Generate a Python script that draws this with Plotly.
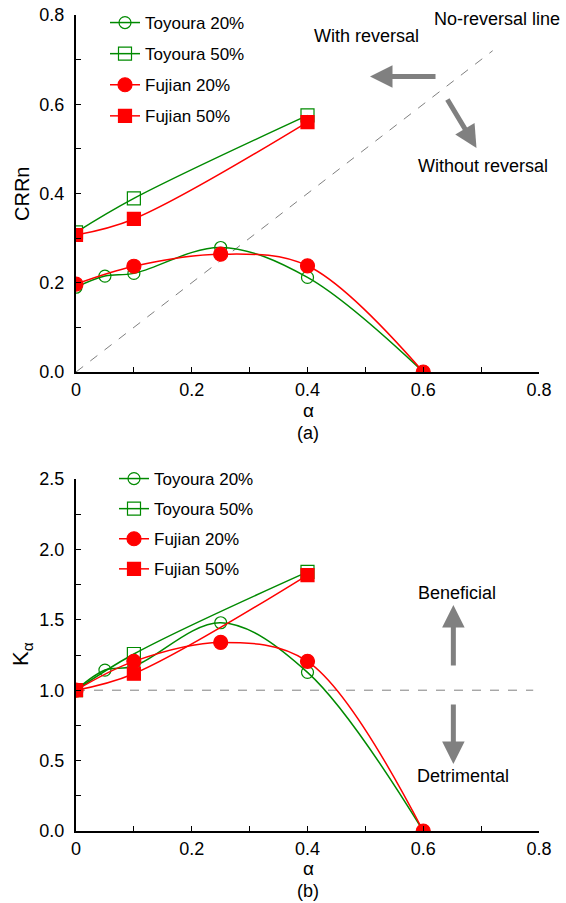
import plotly.graph_objects as go

# ---------------- data ----------------
alpha_t20 = [0, 0.05, 0.1, 0.25, 0.4, 0.6]
alpha_50 = [0, 0.1, 0.4]
alpha_f20 = [0, 0.1, 0.25, 0.4, 0.6]

crr_t20 = [0.19, 0.215, 0.221, 0.279, 0.212, 0.0]
crr_t50 = [0.313, 0.389, 0.575]
crr_f20 = [0.197, 0.237, 0.264, 0.238, 0.0]
crr_f50 = [0.307, 0.343, 0.560]

k_t20 = [1.0, 1.143, 1.17, 1.479, 1.127, 0.0]
k_t50 = [1.0, 1.257, 1.84]
k_f20 = [1.0, 1.205, 1.339, 1.205, 0.0]
k_f50 = [1.0, 1.117, 1.818]

noreversal_x = [0, 0.72]
noreversal_y = [0, 0.72]
kref_x = [0, 0.79]
kref_y = [1.0, 1.0]

x_ticks = [0, 0.2, 0.4, 0.6, 0.8]
x_ticktext = ["0", "0.2", "0.4", "0.6", "0.8"]
y1_ticks = [0, 0.2, 0.4, 0.6, 0.8]
y1_ticktext = ["0.0", "0.2", "0.4", "0.6", "0.8"]
y2_ticks = [0, 0.5, 1.0, 1.5, 2.0, 2.5]
y2_ticktext = ["0.0", "0.5", "1.0", "1.5", "2.0", "2.5"]

names = ["Toyoura 20%", "Toyoura 50%", "Fujian 20%", "Fujian 50%"]

GREEN = "#008a00"
RED = "#ff0000"
GRAY = "#808080"
FONT = "Liberation Sans, Arial, Helvetica, sans-serif"

fig = go.Figure()

styles = [
    dict(color=GREEN, symbol="circle-open", size=12),
    dict(color=GREEN, symbol="square-open", size=13),
    dict(color=RED, symbol="circle", size=14),
    dict(color=RED, symbol="square", size=13),
]

def add_series(xs, ys, st, name, xa, ya, legend):
    fig.add_trace(go.Scatter(
        x=xs, y=ys, name=name, mode="lines+markers",
        line=dict(color=st["color"], width=1.5, shape="spline", smoothing=1.0),
        marker=dict(symbol=st["symbol"], size=st["size"], color=st["color"],
                    line=dict(color=st["color"], width=1.2)),
        xaxis=xa, yaxis=ya, legend=legend, legendgroup=legend + name,
    ))

# reference lines
fig.add_trace(go.Scatter(x=noreversal_x, y=noreversal_y, mode="lines",
                         line=dict(color=GRAY, width=1, dash="dash"),
                         showlegend=False, xaxis="x", yaxis="y", hoverinfo="skip"))
fig.add_trace(go.Scatter(x=kref_x, y=kref_y, mode="lines",
                         line=dict(color=GRAY, width=1, dash="dash"),
                         showlegend=False, xaxis="x2", yaxis="y2", hoverinfo="skip"))

top_series = [(alpha_t20, crr_t20), (alpha_50, crr_t50), (alpha_f20, crr_f20), (alpha_50, crr_f50)]
bot_series = [(alpha_t20, k_t20), (alpha_50, k_t50), (alpha_f20, k_f20), (alpha_50, k_f50)]
for (xs, ys), st, nm in zip(top_series, styles, names):
    add_series(xs, ys, st, nm, "x", "y", "legend")
for (xs, ys), st, nm in zip(bot_series, styles, names):
    add_series(xs, ys, st, nm, "x2", "y2", "legend2")

# plot geometry (pixels)
W, H = 566, 903
L, R, B = 76, 539, 831
ML, MR, MT, MB = L, W - R, 0, H - B
ph = B
top_y0 = (B - 372) / ph
top_y1 = (B - 15) / ph
bot_y1 = (B - 479) / ph

def py(y):
    return (B - y) / ph

def px(x):
    return (x - L) / (R - L)

axis_common = dict(
    showline=True, linecolor="black", linewidth=2, showgrid=False, zeroline=False,
    ticks="inside", ticklen=5, tickwidth=1.2, tickcolor="black",
    tickfont=dict(family=FONT, size=18, color="black"),
    mirror=False, automargin=False,
)

fig.update_layout(
    width=W, height=H,
    margin=dict(l=ML, r=MR, t=MT, b=MB),
    paper_bgcolor="white", plot_bgcolor="white",
    font=dict(family=FONT, size=17, color="black"),
    showlegend=True,
    xaxis=dict(domain=[0, 1], anchor="y", range=[0, 0.8], tickvals=x_ticks, ticktext=x_ticktext,
               minor=dict(dtick=0.1, tick0=0, ticks="inside", ticklen=5, tickwidth=1.2, tickcolor="black"),
               **axis_common),
    yaxis=dict(domain=[top_y0, top_y1], anchor="x", range=[0, 0.8], tickvals=y1_ticks, ticktext=y1_ticktext,
               minor=dict(dtick=0.1, tick0=0, ticks="inside", ticklen=5, tickwidth=1.2, tickcolor="black"),
               ticklabelstandoff=6, **axis_common),
    xaxis2=dict(domain=[0, 1], anchor="y2", range=[0, 0.8], tickvals=x_ticks, ticktext=x_ticktext,
                minor=dict(dtick=0.1, tick0=0, ticks="inside", ticklen=5, tickwidth=1.2, tickcolor="black"),
                **axis_common),
    yaxis2=dict(domain=[0, bot_y1], anchor="x2", range=[0, 2.5], tickvals=y2_ticks, ticktext=y2_ticktext,
                minor=dict(dtick=0.25, tick0=0, ticks="inside", ticklen=5, tickwidth=1.2, tickcolor="black"),
                ticklabelstandoff=6, **axis_common),
    legend=dict(x=px(105), y=py(5), xanchor="left", yanchor="top", bgcolor="rgba(0,0,0,0)",
                traceorder="grouped", tracegroupgap=6, font=dict(family=FONT, size=17)),
    legend2=dict(x=px(114), y=py(461), xanchor="left", yanchor="top", bgcolor="rgba(0,0,0,0)",
                 traceorder="grouped", tracegroupgap=5, font=dict(family=FONT, size=17)),
)

ann = []
def text(x, y, s, size=18, angle=0, xref="paper", yref="paper"):
    ann.append(dict(x=x, y=y, xref=xref, yref=yref, text=s, showarrow=False,
                    font=dict(family=FONT, size=size, color="black"), textangle=angle,
                    xanchor="center", yanchor="middle"))

# axis titles and panel labels
text(px(22), py(194), "CRRn", size=20, angle=-90)
text(px(22), py(654), "K<sub>α</sub>", size=22, angle=-90)
text(px(308), py(410), "α", size=19)
text(px(308), py(433), "(a)", size=18)
text(px(308), py(869), "α", size=19)
text(px(308), py(891), "(b)", size=18)

# region texts
text(0.727, 0.791, "No-reversal line", xref="x", yref="y")
text(0.502, 0.754, "With reversal", xref="x", yref="y")
text(0.703, 0.462, "Without reversal", xref="x", yref="y")
text(0.658, 1.688, "Beneficial", xref="x2", yref="y2")
text(0.669, 0.391, "Detrimental", xref="x2", yref="y2")

def arrow(x, y, ax, ay, xref, yref):
    ann.append(dict(x=x, y=y, xref=xref, yref=yref, ax=ax, ay=ay, text="",
                    showarrow=True, arrowhead=2, arrowsize=0.9, arrowwidth=5,
                    arrowcolor=GRAY, standoff=0))

arrow(0.508, 0.662, 67, 0, "x", "y")
arrow(0.692, 0.502, -30, -50, "x", "y")
arrow(0.652, 1.605, 0, 62, "x2", "y2")
arrow(0.652, 0.476, 0, -61, "x2", "y2")

fig.update_layout(annotations=ann)

fig.write_html("out.html", config={"displayModeBar": False},
               post_script="document.body.style.margin='0';document.body.style.overflow='hidden';")
